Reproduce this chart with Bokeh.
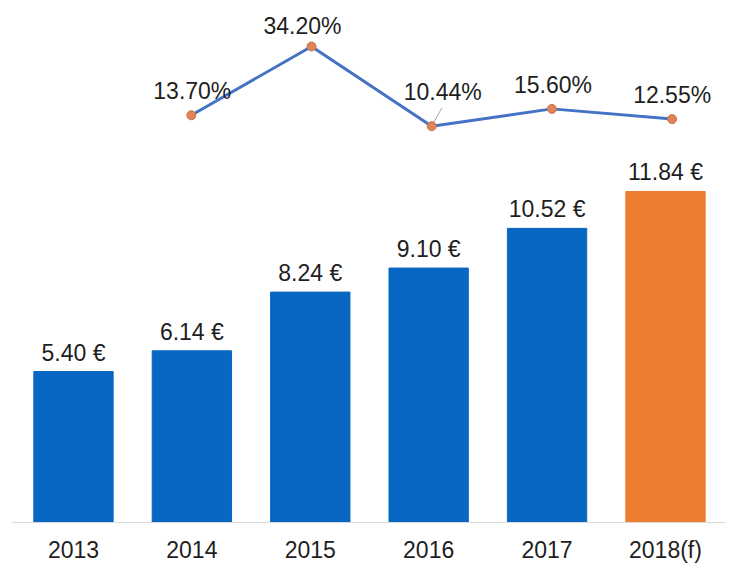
from bokeh.plotting import figure
from bokeh.models import Range1d, ColumnDataSource, FixedTicker
from bokeh.embed import file_html
from bokeh.resources import INLINE
from bokeh.core.properties import value

# ---- data ----
categories = ["2013", "2014", "2015", "2016", "2017", "2018(f)"]
prices = [5.40, 6.14, 8.24, 9.10, 10.52, 11.84]
price_labels = ["5.40 €", "6.14 €", "8.24 €", "9.10 €", "10.52 €", "11.84 €"]
growth_categories = ["2014", "2015", "2016", "2017", "2018(f)"]
growth = [13.70, 34.20, 10.44, 15.60, 12.55]
growth_labels = ["13.70%", "34.20%", "10.44%", "15.60%", "12.55%"]

# ---- styles ----
BLUE = "#0767C3"
ORANGE = "#ED7D31"
LINE = "#4472C4"
MARK = "#DE8457"
TXT = "#1E1E1E"
FONT = "Liberation Sans"
FS = "23px"
bar_colors = [BLUE] * 5 + [ORANGE]
# label offsets (pixels) for the growth labels
g_xoff = [1, -9, 11, 1, 0]
g_yoff = [-24, -20, -34, -24, -24]

FRAME_W, FRAME_H = 713, 512
x_start, x_end = -0.515, 5.507
y_end = FRAME_H / 27.96
lx_start, lx_end = -0.4875, 5.444
py_start, py_end = -107.72, 44.93

p = figure(width=736, height=572, output_backend="svg", toolbar_location=None,
           x_range=Range1d(x_start, x_end), y_range=Range1d(0, y_end),
           y_axis_location=None, min_border_left=12, min_border_right=11,
           min_border_top=10, min_border_bottom=50)
p.extra_x_ranges = {"lx": Range1d(lx_start, lx_end)}
p.extra_y_ranges = {"pct": Range1d(py_start, py_end)}
p.outline_line_color = None
p.xgrid.visible = False
p.ygrid.visible = False
p.background_fill_color = "white"
p.border_fill_color = "white"

idx = list(range(len(categories)))
bars = ColumnDataSource(dict(x=idx, top=prices, color=bar_colors, label=price_labels))
p.vbar(x="x", top="top", bottom=0, width=0.67, color="color", source=bars)
p.text(x="x", y="top", text="label", source=bars, y_offset=-19,
       text_align="center", text_baseline="alphabetic",
       text_font=value(FONT), text_font_size=FS, text_color=TXT)

gidx = [categories.index(c) for c in growth_categories]
gsrc = ColumnDataSource(dict(x=gidx, y=growth, label=growth_labels, xo=g_xoff, yo=g_yoff))

# leader line for 10.44% label
li = 2
lx_scale = FRAME_W / (lx_end - lx_start)
py_scale = FRAME_H / (py_end - py_start)
p.segment(x0=[gidx[li]], y0=[growth[li]],
          x1=[gidx[li] + 10 / lx_scale], y1=[growth[li] + 18 / py_scale],
          line_color="#A6A6A6", line_width=1,
          x_range_name="lx", y_range_name="pct")

p.line(x="x", y="y", source=gsrc, line_color=LINE, line_width=3,
       x_range_name="lx", y_range_name="pct")
p.scatter(x="x", y="y", source=gsrc, size=9, fill_color=MARK, line_color="#C8734A",
          line_width=1, x_range_name="lx", y_range_name="pct")
p.text(x="x", y="y", text="label", source=gsrc, x_offset="xo", y_offset="yo",
       text_align="center", text_baseline="alphabetic",
       text_font=value(FONT), text_font_size=FS, text_color=TXT,
       x_range_name="lx", y_range_name="pct")

ax = p.xaxis[0]
ax.ticker = FixedTicker(ticks=idx)
ax.major_label_overrides = {i: c for i, c in zip(idx, categories)}
ax.major_tick_line_color = None
ax.minor_tick_line_color = None
ax.major_tick_out = 0
ax.major_tick_in = 0
ax.axis_line_color = "#D9D9D9"
ax.axis_line_width = 1
ax.major_label_standoff = 14
ax.major_label_text_font = FONT
ax.major_label_text_font_size = FS
ax.major_label_text_color = TXT

open("out.html", "w").write(file_html(p, INLINE))
